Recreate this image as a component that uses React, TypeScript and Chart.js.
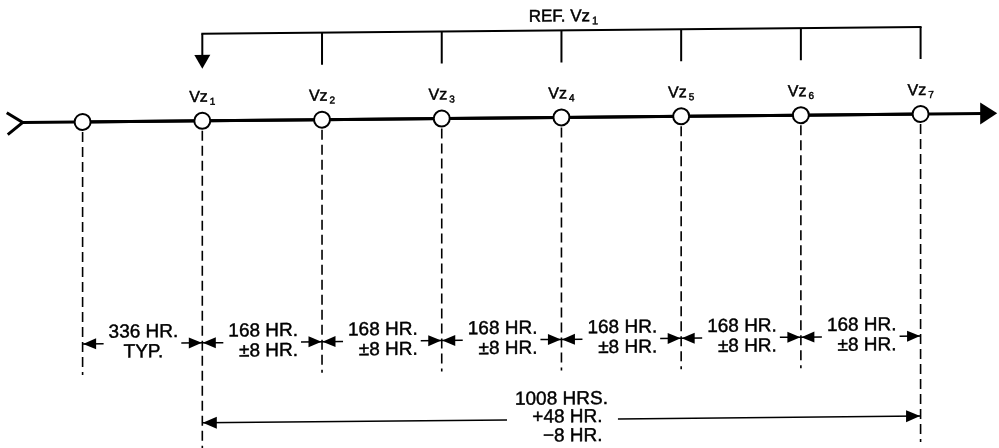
import { useEffect, useRef } from "react";
import { Chart, registerables } from "chart.js";

Chart.register(...registerables);

// ---- data ----
const eventIndex = [0, 1, 2, 3, 4, 5, 6, 7];
const eventNames = ["", "Vz", "Vz", "Vz", "Vz", "Vz", "Vz", "Vz"];
const eventSubscripts = ["", "1", "2", "3", "4", "5", "6", "7"];
const longDashEvents = [1, 7];
const refEvents = [1, 2, 3, 4, 5, 6, 7];
const refLabel = ["REF. Vz", "1"];
const intervalTop = ["336 HR.", "168 HR.", "168 HR.", "168 HR.", "168 HR.", "168 HR.", "168 HR."];
const intervalBottom = ["TYP.", "±8 HR.", "±8 HR.", "±8 HR.", "±8 HR.", "±8 HR.", "±8 HR."];
const totalSpan = [1, 7];
const totalLines = ["1008 HRS.", "+48 HR.", "\u22128 HR."];

// ---- layout ----
const X_MIN = -0.69;
const X_MAX = 7.655;
const TAIL = -0.5;
const ARROW_TIP = 7.64;
const Y = {
  ref: 22,
  bracket: 31,
  tick: 63,
  arrowTip: 66,
  label: 99,
  line: 118,
  dashTop: 128,
  dashShort: 371,
  dashLong: 446,
  dim: 340,
  dimText1: 334,
  dimText2: 354,
  total: 420,
  totalText: [405, 423, 442],
};
const SKEW = -0.0095;
const SKEW_CX = 500;
const FONT = "'Liberation Sans', Arial, Helvetica, sans-serif";

function tri(ctx: CanvasRenderingContext2D, x: number, y: number, dir: string, len: number, half: number) {
  ctx.beginPath();
  if (dir === "left") {
    ctx.moveTo(x, y);
    ctx.lineTo(x + len, y - half);
    ctx.lineTo(x + len, y + half);
  } else if (dir === "right") {
    ctx.moveTo(x, y);
    ctx.lineTo(x - len, y - half);
    ctx.lineTo(x - len, y + half);
  } else {
    ctx.moveTo(x, y);
    ctx.lineTo(x - half, y - len);
    ctx.lineTo(x + half, y - len);
  }
  ctx.closePath();
  ctx.fill();
}

function seg(ctx: CanvasRenderingContext2D, x1: number, y1: number, x2: number, y2: number) {
  ctx.beginPath();
  ctx.moveTo(x1, y1);
  ctx.lineTo(x2, y2);
  ctx.stroke();
}

function heavyText(ctx: CanvasRenderingContext2D, t: string, x: number, y: number) {
  ctx.save();
  ctx.lineWidth = 0.45;
  ctx.strokeText(t, x, y);
  ctx.restore();
  ctx.fillText(t, x, y);
}

const diagramPlugin = {
  id: "diagram",
  beforeDraw(chart: any) {
    const ctx = chart.ctx as CanvasRenderingContext2D;
    ctx.save();
    ctx.transform(1, SKEW, 0, 1, 0, -SKEW * SKEW_CX);
  },
  afterDraw(chart: any) {
    chart.ctx.restore();
  },
  beforeDatasetsDraw(chart: any) {
    const ctx = chart.ctx as CanvasRenderingContext2D;
    const xs = chart.scales.x;
    const ys = chart.scales.y;
    const px = (v: number) => xs.getPixelForValue(v);
    const py = (v: number) => ys.getPixelForValue(v);
    ctx.save();
    ctx.strokeStyle = "#000";
    ctx.fillStyle = "#000";
    // timeline extension with tail and arrow
    const yl = py(Y.line);
    ctx.lineWidth = 3;
    ctx.lineCap = "butt";
    const tx = px(TAIL);
    const ax = px(ARROW_TIP);
    seg(ctx, tx, yl, ax - 14, yl);
    ctx.beginPath();
    ctx.moveTo(tx - 16, yl - 10);
    ctx.lineTo(tx, yl);
    ctx.lineTo(tx - 15, yl + 12);
    ctx.stroke();
    tri(ctx, ax, yl, "right", 17, 11);
    // dashed extension lines
    ctx.lineWidth = 1.6;
    ctx.setLineDash([10, 5]);
    eventIndex.forEach((i) => {
      const end = longDashEvents.includes(i) ? Y.dashLong : Y.dashShort;
      seg(ctx, px(i), py(Y.dashTop), px(i), py(end));
    });
    ctx.setLineDash([]);
    // reference bracket
    ctx.lineWidth = 2;
    const first = refEvents[0];
    const last = refEvents[refEvents.length - 1];
    seg(ctx, px(first) - 1, py(Y.bracket), px(last) + 1, py(Y.bracket));
    refEvents.forEach((i) => {
      if (i === first) {
        seg(ctx, px(i), py(Y.bracket), px(i), py(Y.arrowTip) - 12);
        tri(ctx, px(i), py(Y.arrowTip), "down", 14, 8);
      } else {
        seg(ctx, px(i), py(Y.bracket), px(i), py(Y.tick));
      }
    });
    ctx.restore();
  },
  afterDatasetsDraw(chart: any) {
    const ctx = chart.ctx as CanvasRenderingContext2D;
    const xs = chart.scales.x;
    const ys = chart.scales.y;
    const px = (v: number) => xs.getPixelForValue(v);
    const py = (v: number) => ys.getPixelForValue(v);
    ctx.save();
    ctx.fillStyle = "#000";
    ctx.strokeStyle = "#000";
    ctx.textBaseline = "alphabetic";

    const subText = (main: string, sub: string, cx: number, base: number, size: number, subSize: number) => {
      ctx.textAlign = "left";
      ctx.font = `${size}px ${FONT}`;
      const w1 = ctx.measureText(main).width;
      ctx.font = `${subSize}px ${FONT}`;
      const w2 = ctx.measureText(sub).width;
      const start = cx - (w1 + 2 + w2) / 2;
      ctx.font = `${size}px ${FONT}`;
      heavyText(ctx, main, start, base);
      ctx.font = `${subSize}px ${FONT}`;
      heavyText(ctx, sub, start + w1 + 2, base + 3);
    };

    // event labels
    eventIndex.forEach((i) => {
      if (!eventNames[i]) return;
      subText(eventNames[i], eventSubscripts[i], px(i), py(Y.label), 16, 10);
    });
    // ref label
    subText(refLabel[0], refLabel[1], (px(refEvents[0]) + px(refEvents[refEvents.length - 1])) / 2 + 2, py(Y.ref), 17, 11);

    // interval dimensions
    ctx.lineWidth = 1.5;
    for (let k = 0; k < intervalTop.length; k++) {
      const a = px(eventIndex[k]);
      const b = px(eventIndex[k + 1]);
      const mid = (a + b) / 2;
      ctx.font = `19px ${FONT}`;
      const w1 = ctx.measureText(intervalTop[k]).width;
      const w2 = ctx.measureText(intervalBottom[k]).width;
      const w = Math.max(w1, w2);
      const yd = py(Y.dim);
      ctx.lineWidth = 1.5;
      seg(ctx, a, yd, mid - w / 2 - 4, yd);
      seg(ctx, mid + w / 2 + 4, yd, b, yd);
      tri(ctx, a + 0.5, yd, "left", 13, 5.5);
      tri(ctx, b - 0.5, yd, "right", 13, 5.5);
      ctx.textAlign = "center";
      heavyText(ctx, intervalTop[k], mid + 1, py(Y.dimText1));
      if (intervalBottom[k].includes("HR")) {
        ctx.textAlign = "right";
        heavyText(ctx, intervalBottom[k], mid + w1 / 2 + 1, py(Y.dimText2));
      } else {
        heavyText(ctx, intervalBottom[k], mid + 1, py(Y.dimText2));
      }
    }

    // total dimension
    const ta = px(totalSpan[0]);
    const tb = px(totalSpan[1]);
    const tm = (ta + tb) / 2;
    ctx.font = `19px ${FONT}`;
    const widths = totalLines.map((t) => ctx.measureText(t).width);
    const tw = Math.max(...widths);
    const yt = py(Y.total);
    ctx.lineWidth = 1.5;
    seg(ctx, ta, yt, tm - tw / 2 - 8, yt);
    seg(ctx, tm + tw / 2 + 10, yt, tb, yt);
    tri(ctx, ta + 0.5, yt, "left", 14, 6);
    tri(ctx, tb - 0.5, yt, "right", 14, 6);
    ctx.textAlign = "center";
    heavyText(ctx, totalLines[0], tm, py(Y.totalText[0]));
    ctx.textAlign = "right";
    const rightEdge = tm + widths[1] / 2 + 6;
    heavyText(ctx, totalLines[1], rightEdge, py(Y.totalText[1]));
    heavyText(ctx, totalLines[2], rightEdge, py(Y.totalText[2]));
    ctx.restore();
  },
};

export default function App() {
  const ref = useRef<HTMLCanvasElement | null>(null);
  useEffect(() => {
    if (!ref.current) return;
    const chart = new Chart(ref.current, {
      type: "scatter",
      data: {
        datasets: [
          {
            data: eventIndex.map((i) => ({ x: i, y: Y.line })),
            showLine: true,
            borderColor: "#000",
            borderWidth: 3,
            pointRadius: 8,
            pointBorderWidth: 2,
            pointBackgroundColor: "#fff",
            pointBorderColor: "#000",
            tension: 0,
            clip: false as any,
          },
        ],
      },
      options: {
        animation: false,
        responsive: false,
        maintainAspectRatio: false,
        devicePixelRatio: 1,
        events: [],
        layout: { padding: 0, autoPadding: false },
        plugins: { legend: { display: false }, tooltip: { enabled: false } },
        scales: {
          x: { type: "linear", min: X_MIN, max: X_MAX, display: false },
          y: { type: "linear", min: 0, max: 448, reverse: true, display: false },
        },
      },
      plugins: [diagramPlugin],
    });
    return () => chart.destroy();
  }, []);
  return (
    <div style={{ position: "absolute", left: 0, top: 0, width: 999, height: 448, background: "#fff" }}>
      <canvas ref={ref} width={999} height={448} style={{ display: "block" }} />
    </div>
  );
}
